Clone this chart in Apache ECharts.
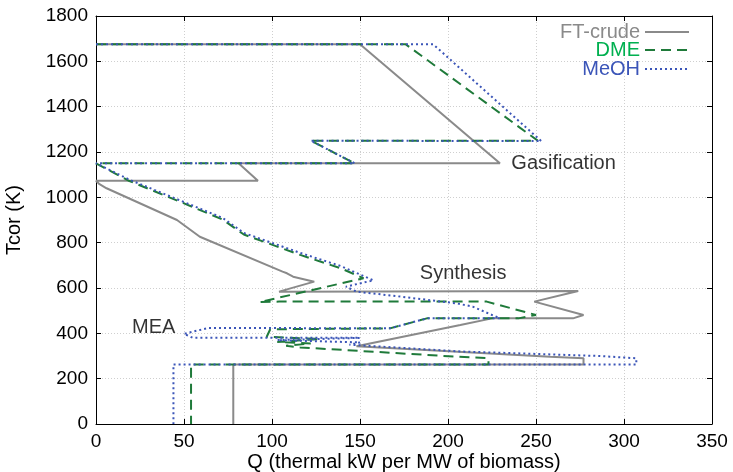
<!DOCTYPE html>
<html>
<head>
<meta charset="utf-8">
<script src="https://cdn.jsdelivr.net/npm/echarts@6/dist/echarts.min.js"></script>
<style>html,body{margin:0;padding:0;background:#fff}#c{width:733px;height:472px}</style>
</head>
<body>
<div id="c"></div>
<script>
// FT-crude composite curve (Q, Tcor)
var ftQ = [0,150,229.5,81,92,0,2,6,46,59,106,108.5,112,124,104,274,249,277,271,225,207,148,258,277,277,78,78];
var ftT = [1675,1675,1150,1150,1073,1073,1058,1040,900,826,672,665,650,628,584,587,540,481,466,466,437,343,297,290,263,263,0];
// DME composite curve
var dmeQ = [0,176,251,122,147,0,19,51,72,84,116,139,152,93,104,222,250,240,188,167,99,97,127,103,122,108,116,205,223,223,54,54];
var dmeT = [1675,1675,1250,1250,1150,1150,1072,970,902,836,746,687,643,538,540,540,481,466,466,422,418,385,375,362,355,345,338,297,290,263,263,0];
// MeOH composite curve
var meohQ = [0,191.6,253,122,147,0,19,51,72,84,116,139,157.6,142,148,173,205,214,229.5,188,167,64,50,55,150,103,150,144,207,286,307,307,44,44];
var meohT = [1675,1675,1248,1250,1150,1150,1078,976,909,843,755,697,634,606,584,562,532,518,466,466,422,424,398,380,380,370,360,350,320,300,290,263,263,0];
// annotations
var annoText = ['Gasification','Synthesis','MEA'];
var annoQ = [236,184,20.5];
var annoT = [1151,666,424];
// axis ticks
var xTicks = {min:0, max:350, interval:50};
var yTicks = {min:0, max:1800, interval:200};

function pairs(q,t){ return q.map(function(v,i){ return [v,t[i]]; }); }

var FONT = '"Liberation Sans", Arial, Helvetica, sans-serif';
var cGray = '#8a8a8a', cGreen = '#1f7a3a', cBlue = '#3b55b8';

var chart = echarts.init(document.getElementById('c'), null, {renderer:'canvas'});
function legendFor(name, color, top){
  return {data:[{name:name, textStyle:{color:color}}], right:43, top:top, align:'right', orient:'horizontal',
    itemWidth:44, itemHeight:14, padding:0, itemGap:0, selectedMode:false,
    itemStyle:{opacity:0, borderWidth:0},
    textStyle:{fontSize:20, fontFamily:FONT, color:color, padding:[0,0,0,0]}};
}
var axisCommon = {
  axisLine:{show:true, onZero:false, lineStyle:{color:'#000', width:1}},
  axisTick:{show:true, inside:true, length:5, lineStyle:{color:'#000', width:1}}
};
var option = {
  animation:false,
  backgroundColor:'#fff',
  grid:{left:96, right:21, top:16, bottom:48, containLabel:false, outerBoundsMode:'none'},
  legend:[legendFor('FT-crude', cGray, 22), legendFor('DME', '#00b050', 40), legendFor('MeOH', cBlue, 59)],
  xAxis:[
    Object.assign({type:'value', position:'bottom', min:xTicks.min, max:xTicks.max, interval:xTicks.interval,
      axisLabel:{color:'#000', fontSize:19, fontFamily:FONT, margin:8, formatter:function(v){ return String(v); }},
      splitLine:{show:true, lineStyle:{color:'#cfcfcf', type:[1,2], width:1}},
      name:'Q (thermal kW per MW of biomass)', nameLocation:'middle', nameGap:28, nameMoveOverlap:false,
      nameTextStyle:{fontSize:20, color:'#000', fontFamily:FONT}}, axisCommon),
    Object.assign({type:'value', position:'top', min:xTicks.min, max:xTicks.max, interval:xTicks.interval,
      axisLabel:{show:false}, splitLine:{show:false}}, axisCommon)
  ],
  yAxis:[
    Object.assign({type:'value', position:'left', min:yTicks.min, max:yTicks.max, interval:yTicks.interval,
      axisLabel:{color:'#000', fontSize:19, fontFamily:FONT, margin:8, formatter:function(v){ return String(v); }},
      splitLine:{show:true, lineStyle:{color:'#cfcfcf', type:[1,2], width:1}},
      name:'Tcor (K)', nameLocation:'middle', nameGap:72, nameRotate:90,
      nameTextStyle:{fontSize:20, color:'#000', fontFamily:FONT}}, axisCommon),
    Object.assign({type:'value', position:'right', min:yTicks.min, max:yTicks.max, interval:yTicks.interval,
      axisLabel:{show:false}, splitLine:{show:false}}, axisCommon)
  ],
  series:[
    {name:'FT-crude', type:'line', data:pairs(ftQ, ftT), symbol:'none', smooth:false, z:2,
      lineStyle:{color:cGray, width:2}, itemStyle:{color:cGray}},
    {name:'DME', type:'line', data:pairs(dmeQ, dmeT), symbol:'none', smooth:false, z:3,
      lineStyle:{color:cGreen, width:2, type:[10,6]}, itemStyle:{color:cGreen}},
    {name:'MeOH', type:'line', data:pairs(meohQ, meohT), symbol:'none', smooth:false, z:4,
      lineStyle:{color:cBlue, width:2, type:[2,3]}, itemStyle:{color:cBlue}},
    {name:'annotations', type:'scatter', data:annoQ.map(function(q,i){ return {value:[q, annoT[i]], name:annoText[i]}; }),
      symbolSize:0, silent:true, z:5,
      label:{show:true, position:'right', distance:0, formatter:function(p){ return p.name; },
        color:'#000', textBorderWidth:0, fontSize:20, fontFamily:FONT}}
  ]
};
chart.setOption(option);
</script>
</body>
</html>
